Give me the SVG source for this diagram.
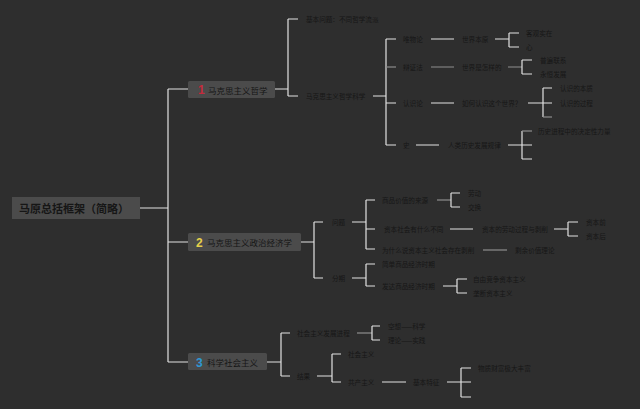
<svg xmlns="http://www.w3.org/2000/svg" width="640" height="409" viewBox="0 0 640 409">
<style>
text{font-family:"Noto Sans CJK SC","Noto Sans",sans-serif;fill:#161616;dominant-baseline:central}
.s{font-size:6.6px}
.n{font-size:8.5px}
.r{font-size:11px;font-weight:bold}
.w{fill:none;stroke:#e2e2e2;stroke-width:1.2}
.g{fill:none;stroke:#8e8e8e;stroke-width:1.2}
.box{fill:#4b4b4b}
.num{font-size:12px;font-weight:bold;font-family:"Liberation Sans",sans-serif}
</style>
<rect width="640" height="409" fill="#2e2e2e"/>
<g id="connectors">
<path class="w" d="M140 208H168M168 89V362M168 89H188M168 242H188M168 362H188"/>
<path class="w" d="M275 89H288M288 19V96M288 19H298M288 96H298"/>
<path class="w" d="M373 96H386M386 39V145M386 39H396M386 103H396M386 145H396"/>
<path class="g" d="M386 67H396"/>
<path class="w" d="M431 39H454M495 39H509M509 33V47M509 33H519M509 47H519"/>
<path class="g" d="M431 67H454M508 67H522"/>
<path class="w" d="M522 60V74M522 60H532M522 74H532"/>
<path class="w" d="M431 103H454M528 103H552M543 88V117M543 88H552"/>
<path class="g" d="M543 117H552"/>
<path class="w" d="M416 145H439M508 145H532M522 131V159M522 159H532"/>
<path class="g" d="M522 131H532"/>
<path class="w" d="M301 242H314M314 222V278M314 222H323M314 278H323"/>
<path class="w" d="M352 222H366M366 200V249M366 200H375M366 229H375M366 249H375"/>
<path class="g" d="M437 200H451"/>
<path class="w" d="M451 193V207M451 193H460M451 207H460"/>
<path class="w" d="M450 229H473M554 229H568M568 222V236M568 222H578M568 236H578"/>
<path class="g" d="M483 250H507"/>
<path class="w" d="M352 278H366M366 264V286M366 264H375M366 286H375"/>
<path class="w" d="M443 286H457M457 279V293M457 279H467M457 293H467"/>
<path class="w" d="M267 362H281M281 333V376M281 333H290M281 376H290"/>
<path class="g" d="M357 333H372"/>
<path class="w" d="M372 326V340M372 326H380M372 340H380"/>
<path class="w" d="M317 376H332M332 354V382M332 354H341M332 382H341"/>
<path class="w" d="M382 382H406M447 382H471M461 368V397M461 368H471M461 397H471"/>
</g>
<g id="root"><rect class="box" x="12" y="197" width="128" height="22"/><text class="r" x="19" y="208">马原总括框架（简略）</text></g>
<g id="n1"><rect class="box" x="188" y="81" width="87" height="17" rx="1.5"/><text class="num" x="198" y="90" style="fill:#c42a3c">1</text><text class="n" x="208" y="89.5">马克思主义哲学</text></g>
<g id="n2"><rect class="box" x="188" y="233" width="113" height="18" rx="1.5"/><text class="num" x="196" y="242.5" style="fill:#e6d04a">2</text><text class="n" x="207" y="242">马克思主义政治经济学</text></g>
<g id="n3"><rect class="box" x="188" y="353" width="79" height="17" rx="1.5"/><text class="num" x="196" y="362.5" style="fill:#2e98d4">3</text><text class="n" x="207" y="361.5">科学社会主义</text></g>
<g id="n1-a"><text class="s" x="306" y="19">基本问题：不同哲学流派</text></g>
<g id="n1-b"><text class="s" x="306" y="96">马克思主义哲学科学</text></g>
<g id="n1-b1"><text class="s" x="403" y="39">唯物论</text></g>
<g id="n1-b2"><text class="s" x="403" y="67">辩证法</text></g>
<g id="n1-b3"><text class="s" x="403" y="103">认识论</text></g>
<g id="n1-b4"><text class="s" x="403" y="145">史</text></g>
<g id="n1-b1a"><text class="s" x="462" y="39">世界本原</text></g>
<g id="n1-b1a1"><text class="s" x="526" y="33">客观实在</text></g>
<g id="n1-b1a2"><text class="s" x="526" y="47">心</text></g>
<g id="n1-b2a"><text class="s" x="462" y="67">世界是怎样的</text></g>
<g id="n1-b2a1"><text class="s" x="540" y="60">普遍联系</text></g>
<g id="n1-b2a2"><text class="s" x="540" y="74">永恒发展</text></g>
<g id="n1-b3a"><text class="s" x="462" y="103">如何认识这个世界？</text></g>
<g id="n1-b3a1"><text class="s" x="560" y="88">认识的本质</text></g>
<g id="n1-b3a2"><text class="s" x="560" y="103">认识的过程</text></g>
<g id="n1-b4a"><text class="s" x="448" y="145">人类历史发展规律</text></g>
<g id="n1-b4a1"><text class="s" x="538" y="131">历史进程中的决定性力量</text></g>
<g id="n2-a"><text class="s" x="332" y="222">问题</text></g>
<g id="n2-b"><text class="s" x="332" y="278">分期</text></g>
<g id="n2-a1"><text class="s" x="382" y="200">商品价值的来源</text></g>
<g id="n2-a1a"><text class="s" x="468" y="193">劳动</text></g>
<g id="n2-a1b"><text class="s" x="468" y="207">交换</text></g>
<g id="n2-a2"><text class="s" x="384" y="229">资本社会有什么不同</text></g>
<g id="n2-a2a"><text class="s" x="482" y="229">资本的劳动过程与剥削</text></g>
<g id="n2-a2a1"><text class="s" x="586" y="222">资本前</text></g>
<g id="n2-a2a2"><text class="s" x="586" y="236">资本后</text></g>
<g id="n2-a3"><text class="s" x="382" y="250">为什么说资本主义社会存在剥削</text></g>
<g id="n2-a3a"><text class="s" x="515" y="250">剩余价值理论</text></g>
<g id="n2-b1"><text class="s" x="382" y="264">简单商品经济时期</text></g>
<g id="n2-b2"><text class="s" x="382" y="286">发达商品经济时期</text></g>
<g id="n2-b2a"><text class="s" x="473" y="279">自由竞争资本主义</text></g>
<g id="n2-b2b"><text class="s" x="473" y="293">垄断资本主义</text></g>
<g id="n3-a"><text class="s" x="297" y="333">社会主义发展进程</text></g>
<g id="n3-a1"><text class="s" x="388" y="326">空想——科学</text></g>
<g id="n3-a2"><text class="s" x="388" y="340">理论——实践</text></g>
<g id="n3-b"><text class="s" x="297" y="376">结果</text></g>
<g id="n3-b1"><text class="s" x="348" y="354">社会主义</text></g>
<g id="n3-b2"><text class="s" x="348" y="382">共产主义</text></g>
<g id="n3-b2a"><text class="s" x="413" y="382">基本特征</text></g>
<g id="n3-b2a1"><text class="s" x="478" y="368">物质财富极大丰富</text></g>
</svg>
